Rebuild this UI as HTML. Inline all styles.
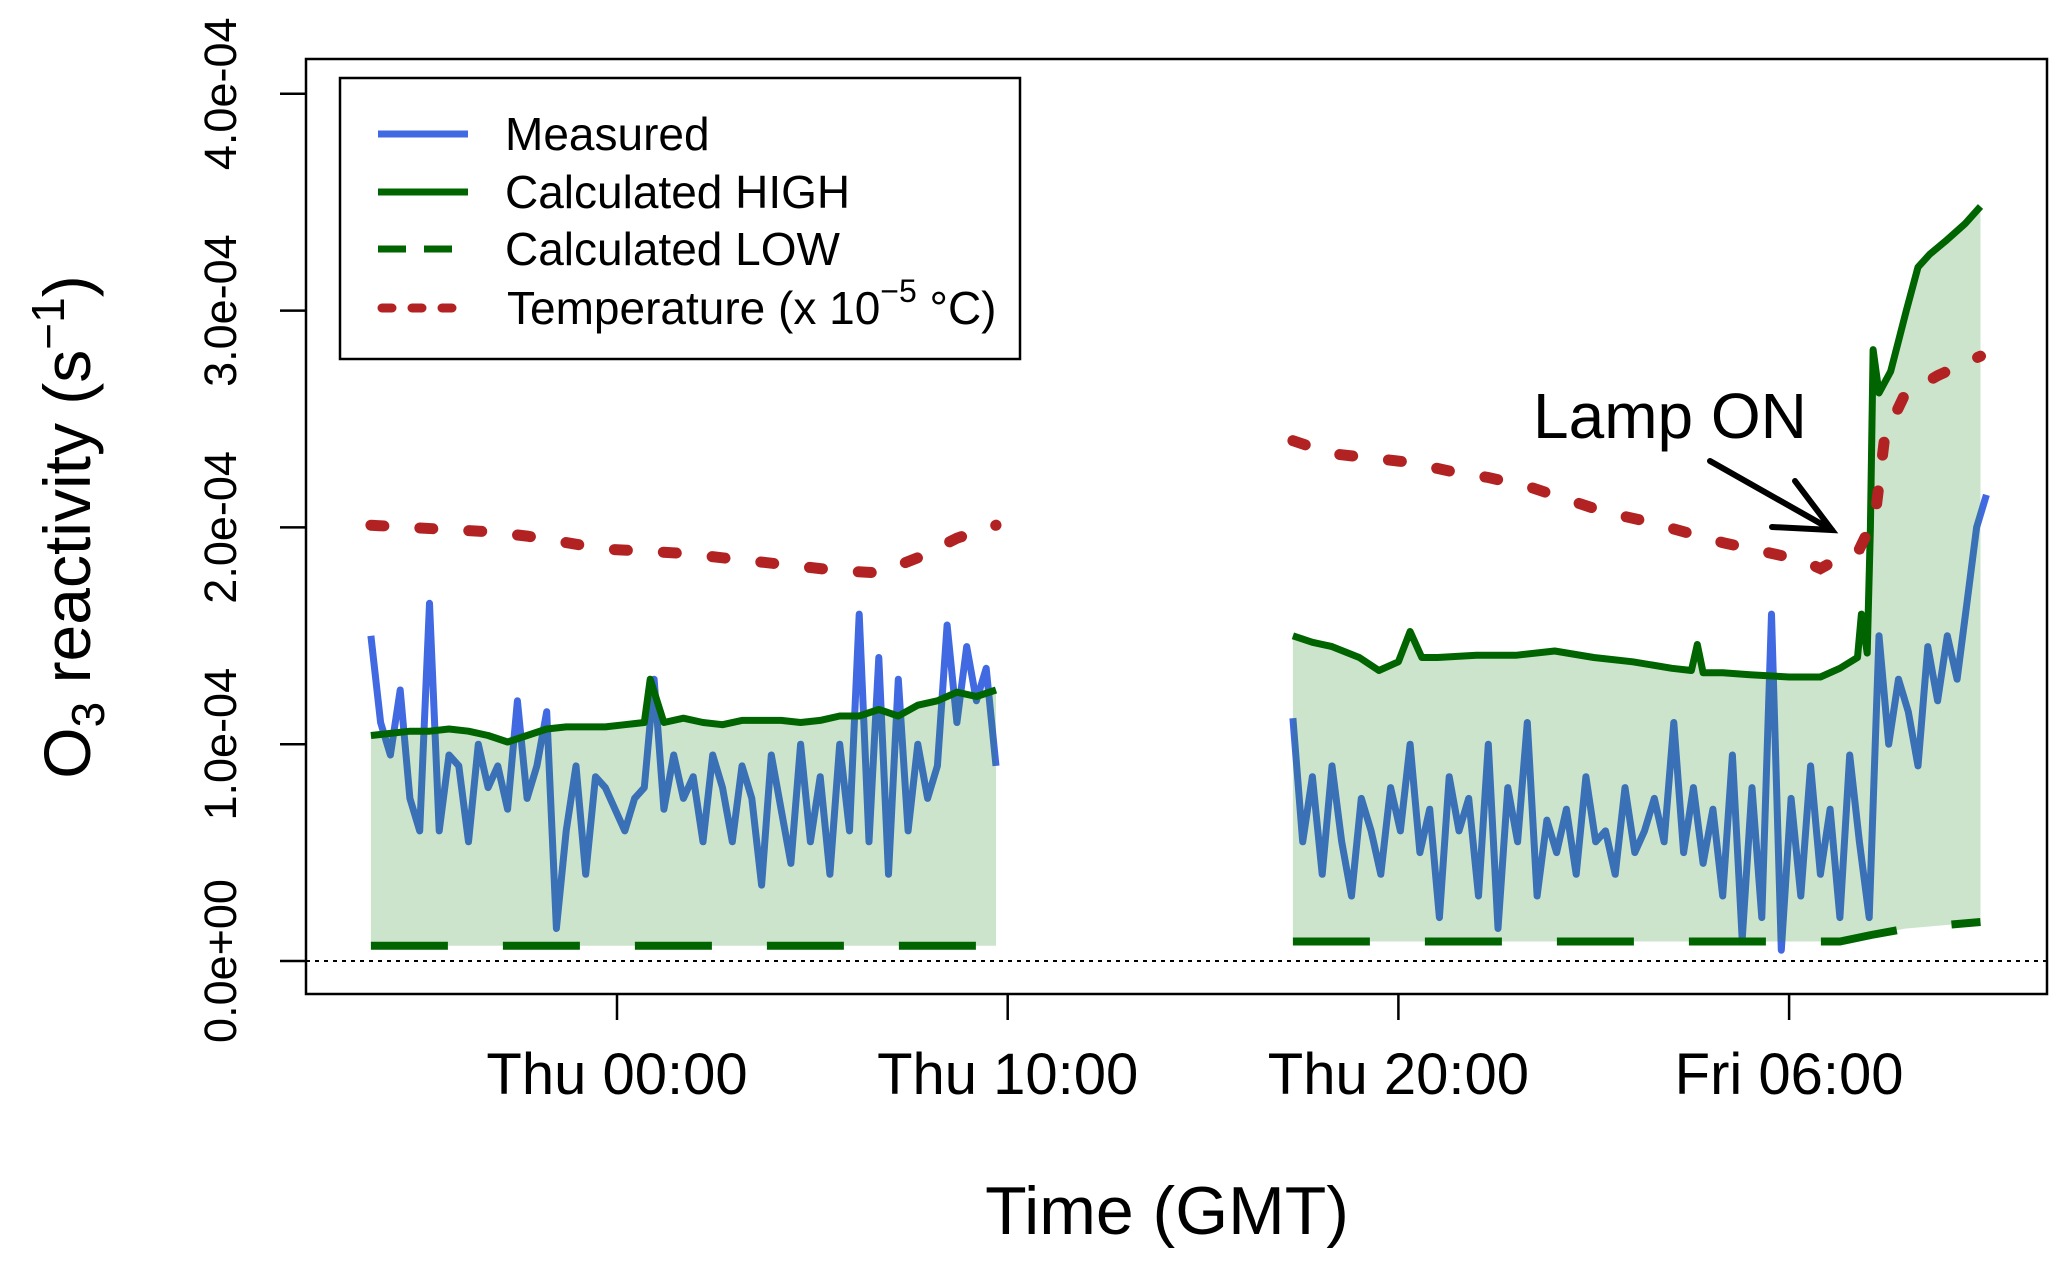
<!DOCTYPE html>
<html><head><meta charset="utf-8"><style>
html,body{margin:0;padding:0;background:#fff;}
svg{display:block;font-family:"Liberation Sans",sans-serif;}
</style></head><body>
<svg id="chart" width="2067" height="1266" viewBox="0 0 2067 1266"></svg>
<script>
// ---- data (hours relative to Thu 00:00 GMT; values in 1e-6 s^-1) ----
const xTickHours = [0, 10, 20, 30];
const xTickLabels = ["Thu 00:00", "Thu 10:00", "Thu 20:00", "Fri 06:00"];
const yTickValues = [0, 100, 200, 300, 400];
const yTickLabels = ["0.0e+00", "1.0e-04", "2.0e-04", "3.0e-04", "4.0e-04"];

const measStart1 = -6.3, measStep1 = 0.25;
const measured1 = [150,110,95,125,75,60,165,60,95,90,55,100,80,90,70,120,75,90,115,15,60,90,40,85,80,70,60,75,80,130,70,95,75,85,55,95,80,55,90,75,35,95,70,45,100,55,85,40,100,60,160,55,140,40,130,60,100,75,90,155,110,145,120,135,90];
const measStart2 = 17.3, measStep2 = 0.25;
const measured2 = [112,55,85,40,90,55,30,75,60,40,80,60,100,50,70,20,85,60,75,30,100,15,80,55,110,30,65,50,70,40,85,55,60,40,80,50,60,75,55,110,50,80,45,70,30,95,10,80,20,160,5,75,30,90,40,70,20,95,55,20,150,100,130,115,90,145,120,150,130,165,200,215];

const highT1 = [-6.3,-5.8,-5.3,-4.8,-4.3,-3.8,-3.3,-2.8,-2.3,-1.8,-1.3,-0.8,-0.3,0.2,0.7,0.85,1.2,1.7,2.2,2.7,3.2,3.7,4.2,4.7,5.2,5.7,6.2,6.7,7.2,7.7,8.2,8.7,9.2,9.7];
const highV1 = [104,105,106,106,107,106,104,101,104,107,108,108,108,109,110,130,110,112,110,109,111,111,111,110,111,113,113,116,113,118,120,124,122,125];
const highT2 = [17.3,17.8,18.3,19.0,19.5,20.0,20.3,20.6,21,22,23,24,25,26,27,27.5,27.65,27.8,28.3,29,30,30.8,31.3,31.75,31.85,32.0,32.08,32.15,32.3,32.6,33.0,33.3,33.6,34.0,34.5,34.9];
const highV2 = [150,147,145,140,134,138,152,140,140,141,141,143,140,138,135,134,146,133,133,132,131,131,135,140,160,142,200,282,262,272,300,320,326,332,340,348];
const lowT1 = [-6.3, 9.7];
const lowV1 = [7, 7];
const lowT2 = [17.3,30.0,31.3,32.1,33.0,34.9];
const lowV2 = [9,9,9,12,15,18];

const tempT1 = [-6.3,-5.3,-4.3,-3.3,-2.3,-1.3,-0.3,0.7,1.7,2.7,3.7,4.7,5.7,6.7,7.7,8.7,9.7];
const tempV1 = [201,200,199,198,196,193,190,189,188,186,184,182,180,179,186,195,201];
const tempT2 = [17.3,18.3,19.3,20.3,21.3,22.3,23.3,24.3,25.3,26.3,27.3,28.3,29.3,30.3,30.8,31.3,31.8,32.2,32.45,32.95,33.8,34.9];
const tempV2 = [240,234,232,230,226,223,219,213,207,203,198,193,189,185,181,186,190,205,242,261,270,279];

// ---- axes ----
const L=306,R=2047,T=59,B=994;
const X = h => 617 + h*39.07;
const Y = v => 961 - v*2.168;
const NS="http://www.w3.org/2000/svg";
const svg=document.getElementById('chart');
function mk(tag,attrs,parent){const e=document.createElementNS(NS,tag);for(const k in attrs)e.setAttribute(k,attrs[k]);(parent||svg).appendChild(e);return e;}
function pts(ts,vs){return ts.map((t,i)=>X(t).toFixed(1)+","+Y(vs[i]).toFixed(1)).join(" ");}
function seq(start,step,n){const a=[];for(let i=0;i<n;i++)a.push(+(start+i*step).toFixed(3));return a;}
const mT1=seq(measStart1,measStep1,measured1.length);
const mT2=seq(measStart2,measStep2,measured2.length);

// zero line
let z=mk('line',{x1:L,x2:R,y1:Y(0),y2:Y(0),stroke:'#000','stroke-width':2,'stroke-dasharray':'4 5'});



// measured lines
[[mT1,measured1,'measured-line-1'],[mT2,measured2,'measured-line-2']].forEach(s=>{
  const p=mk('polyline',{points:pts(s[0],s[1]),fill:'none',stroke:'#4169e1','stroke-width':7,'stroke-linejoin':'round'});
  
  
});

// fill band
function band(hT,hV,lT,lV){
  return pts(hT,hV)+" "+pts(lT.slice().reverse(),lV.slice().reverse());
}
[[highT1,highV1,lowT1,lowV1,'range-band-1'],[highT2,highV2,lowT2,lowV2,'range-band-2']].forEach(s=>{
  const p=mk('polygon',{points:band(s[0],s[1],s[2],s[3]),fill:'rgba(34,139,34,0.23)',stroke:'none'});
  
  
});

// high lines
[[highT1,highV1,'calc-high-line-1'],[highT2,highV2,'calc-high-line-2']].forEach(s=>{
  const p=mk('polyline',{points:pts(s[0],s[1]),fill:'none',stroke:'#006400','stroke-width':7,'stroke-linejoin':'round'});
  
  
});
// low lines
[[lowT1,lowV1,'calc-low-line-1'],[lowT2,lowV2,'calc-low-line-2']].forEach(s=>{
  const p=mk('polyline',{points:pts(s[0],s[1]),fill:'none',stroke:'#006400','stroke-width':8,'stroke-dasharray':'77 55'});
  
  
});
// temperature
[[tempT1,tempV1,'temperature-line-1'],[tempT2,tempV2,'temperature-line-2']].forEach(s=>{
  const p=mk('polyline',{points:pts(s[0],s[1]),fill:'none',stroke:'#b22222','stroke-width':11,'stroke-dasharray':'13 36','stroke-linecap':'round'});
  
  
});

// plot frame
let fr=mk('rect',{x:L,y:T,width:R-L,height:B-T,fill:'none',stroke:'#000','stroke-width':2.5});



// y axis
yTickValues.forEach((v,i)=>{
  const y=Y(v);
  const t=mk('line',{x1:280,x2:L,y1:y,y2:y,stroke:'#000','stroke-width':2.5});
  
  
  const tx=mk('text',{x:0,y:0,'font-size':45,'text-anchor':'middle',transform:`translate(236,${y}) rotate(-90)`});
  tx.textContent=yTickLabels[i];
  
  
});
// x axis
xTickHours.forEach((h,i)=>{
  const x=X(h);
  const t=mk('line',{x1:x,x2:x,y1:B,y2:1020,stroke:'#000','stroke-width':2.5});
  
  
  const tx=mk('text',{x:x,y:1094,'font-size':58,'text-anchor':'middle'});
  tx.textContent=xTickLabels[i];
  
  
});
</script>
<svg style="position:absolute;left:0;top:0" width="2067" height="1266">
  <text x="1167" y="1234" font-size="68" text-anchor="middle" font-family="Liberation Sans, sans-serif">Time (GMT)</text>
  <text transform="translate(90,527) rotate(-90)" font-size="66" text-anchor="middle" font-family="Liberation Sans, sans-serif">O<tspan font-size="46" dy="14">3</tspan><tspan dy="-14"> reactivity (s</tspan><tspan font-size="46" dy="-26">−1</tspan><tspan dy="26">)</tspan></text>
  <text x="1533" y="438" font-size="64" font-family="Liberation Sans, sans-serif">Lamp ON</text>
  <g stroke="#000" stroke-width="6" fill="none" stroke-linecap="round">
    <line x1="1710" y1="461" x2="1832" y2="530"/>
    <polyline points="1795,481 1832,530 1772,527"/>
  </g>
  <g font-family="Liberation Sans, sans-serif" font-size="46">
    <rect x="340" y="78" width="680" height="281" fill="#fff" stroke="#000" stroke-width="2.5"/>
    <line x1="378" x2="468" y1="134" y2="134" stroke="#4169e1" stroke-width="7"/>
    <text x="505" y="150">Measured</text>
    <line x1="378" x2="468" y1="192" y2="192" stroke="#006400" stroke-width="7"/>
    <text x="505" y="208">Calculated HIGH</text>
    <line x1="378" x2="468" y1="249" y2="249" stroke="#006400" stroke-width="7" stroke-dasharray="28 18"/>
    <text x="505" y="265">Calculated LOW</text>
    <line x1="382" x2="468" y1="308" y2="308" stroke="#b22222" stroke-width="9" stroke-dasharray="10 20" stroke-linecap="round"/>
    <text x="507" y="324">Temperature (x 10<tspan font-size="32" dy="-22">−5</tspan><tspan dy="22"> °C)</tspan></text>
  </g>
</svg>
</body></html>
